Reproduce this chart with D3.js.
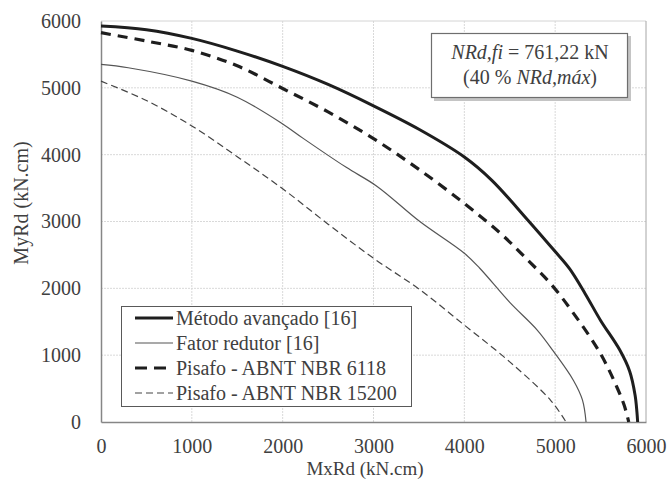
<!DOCTYPE html>
<html>
<head>
<meta charset="utf-8">
<script src="https://cdn.jsdelivr.net/npm/d3@7"></script>
<style>
  body { margin: 0; background: #fff; }
</style>
</head>
<body>
<script>
  // interaction curves (MxRd, MyRd in kN.cm)
  var metodoAvancado = [[0,5925],[500,5870],[1000,5740],[1500,5550],[2000,5320],[2500,5050],[3000,4730],[3500,4380],[4000,3965],[4300,3620],[4700,3020],[5000,2550],[5160,2290],[5330,1920],[5500,1520],[5710,1080],[5820,760],[5880,400],[5900,150],[5908,0]];
  var fatorRedutor = [[0,5350],[300,5300],[1000,5100],[1500,4860],[2000,4460],[2230,4240],[2700,3810],[3040,3525],[3510,3000],[4000,2525],[4170,2300],[4500,1790],[4800,1380],[4980,1060],[5200,625],[5300,330],[5340,0]];
  var pisafo6118 = [[0,5825],[500,5700],[1000,5560],[1500,5330],[2000,4990],[2500,4640],[3000,4240],[3500,3780],[4000,3270],[4400,2820],[4700,2420],[4950,2070],[5200,1630],[5500,1020],[5680,520],[5760,250],[5810,0]];
  var pisafo15200 = [[0,5100],[500,4810],[1000,4430],[1500,3970],[2000,3490],[2500,2960],[3000,2450],[3500,1990],[4000,1450],[4500,900],[4950,325],[5120,0]];

  var seriesNames = ["Método avançado [16]", "Fator redutor [16]", "Pisafo - ABNT NBR 6118", "Pisafo - ABNT NBR 15200"];
  var xTicks = [0, 1000, 2000, 3000, 4000, 5000, 6000];
  var yTicks = [0, 1000, 2000, 3000, 4000, 5000, 6000];

  var width = 668, height = 485;
  var margin = {left: 101, right: 22, top: 21, bottom: 63};
  var font = "'Liberation Serif', 'Times New Roman', serif";
  var ink = "#404040";

  var svg = d3.select("body").append("svg")
    .attr("width", width)
    .attr("height", height)
    .style("font-family", font);

  var x = d3.scaleLinear().domain([0, 6000]).range([margin.left, width - margin.right]);
  var y = d3.scaleLinear().domain([0, 6000]).range([height - margin.bottom, margin.top]);

  // gridlines
  svg.append("g").selectAll("line")
    .data(xTicks.slice(1, -1))
    .enter().append("line")
    .attr("x1", function(d) { return x(d); }).attr("x2", function(d) { return x(d); })
    .attr("y1", y(0)).attr("y2", y(6000))
    .attr("stroke", "#d9d9d9").attr("stroke-dasharray", "2,1");
  svg.append("g").selectAll("line")
    .data(yTicks.slice(1, -1))
    .enter().append("line")
    .attr("y1", function(d) { return y(d); }).attr("y2", function(d) { return y(d); })
    .attr("x1", x(0)).attr("x2", x(6000))
    .attr("stroke", "#d9d9d9").attr("stroke-dasharray", "2,1");

  // frame
  svg.append("line").attr("x1", x(0)).attr("x2", x(6000)).attr("y1", y(6000)).attr("y2", y(6000))
    .attr("stroke", "#d4d4d4");
  svg.append("line").attr("x1", x(6000)).attr("x2", x(6000)).attr("y1", y(0)).attr("y2", y(6000))
    .attr("stroke", "#a6a6a6");

  // axes
  var xAxis = svg.append("g")
    .attr("transform", "translate(0," + y(0) + ")")
    .call(d3.axisBottom(x).tickValues(xTicks).tickSize(0).tickPadding(17).tickFormat(d3.format("d")));
  var yAxis = svg.append("g")
    .attr("transform", "translate(" + x(0) + ",0)")
    .call(d3.axisLeft(y).tickValues(yTicks).tickSize(0).tickPadding(20).tickFormat(d3.format("d")));
  [xAxis, yAxis].forEach(function(a) {
    a.attr("font-family", null).attr("font-size", null);
    a.select(".domain").attr("stroke", "#868686").attr("stroke-width", 1.5);
    a.selectAll("text")
      .style("font-family", font)
      .style("font-size", "20px")
      .attr("fill", ink);
  });

  // curves
  var line = d3.line()
    .x(function(d) { return x(d[0]); })
    .y(function(d) { return y(d[1]); })
    .curve(d3.curveCatmullRom.alpha(0.5));

  var styles = [
    {color: "#1e1e1e", w: 3, dash: null},
    {color: "#555555", w: 1.2, dash: null},
    {color: "#1e1e1e", w: 3.2, dash: "10,7"},
    {color: "#444444", w: 1.2, dash: "7,4"}
  ];
  var allSeries = [metodoAvancado, fatorRedutor, pisafo6118, pisafo15200];

  svg.selectAll("path.curve")
    .data(allSeries)
    .enter().append("path")
    .attr("class", "curve")
    .attr("d", line)
    .attr("fill", "none")
    .attr("stroke", function(d, i) { return styles[i].color; })
    .attr("stroke-width", function(d, i) { return styles[i].w; })
    .attr("stroke-dasharray", function(d, i) { return styles[i].dash; });

  // axis titles
  svg.append("text")
    .attr("x", 365).attr("y", 475)
    .attr("text-anchor", "middle")
    .style("font-family", font).style("font-size", "19px")
    .attr("fill", ink)
    .text("MxRd (kN.cm)");
  svg.append("text")
    .attr("transform", "translate(28,203) rotate(-90)")
    .attr("text-anchor", "middle")
    .style("font-family", font).style("font-size", "20px")
    .attr("fill", ink)
    .text("MyRd (kN.cm)");

  // legend
  var legend = svg.append("g");
  legend.append("rect")
    .attr("x", 121.5).attr("y", 306.5).attr("width", 290).attr("height", 100)
    .attr("fill", "#fff").attr("stroke", "#595959").attr("stroke-width", 1);
  var rows = legend.selectAll("g")
    .data(seriesNames)
    .enter().append("g")
    .attr("transform", function(d, i) { return "translate(135," + (318 + i * 25) + ")"; });
  rows.append("line")
    .attr("x1", 0).attr("x2", 38).attr("y1", 0).attr("y2", 0)
    .attr("stroke", function(d, i) { return styles[i].color; })
    .attr("stroke-width", function(d, i) { return styles[i].w; })
    .attr("stroke-dasharray", function(d, i) { return i == 2 ? "12,7" : styles[i].dash; });
  rows.append("text")
    .attr("x", 41).attr("y", 6.5)
    .style("font-family", font).style("font-size", "20px")
    .attr("fill", ink)
    .text(function(d) { return d; });

  // annotation box with shadow
  var note = svg.append("g");
  note.append("rect")
    .attr("x", 434).attr("y", 36).attr("width", 197).attr("height", 65)
    .attr("fill", "#c4c4c4");
  note.append("rect")
    .attr("x", 431.5).attr("y", 33.5).attr("width", 196).attr("height", 64)
    .attr("fill", "#fff").attr("stroke", "#6e6e6e").attr("stroke-width", 1.2);
  var t1 = note.append("text").attr("x", 530).attr("y", 59).attr("text-anchor", "middle")
    .style("font-family", font).style("font-size", "20px").attr("fill", ink);
  t1.append("tspan").style("font-style", "italic").text("NRd,fi");
  t1.append("tspan").text(" = 761,22 kN");
  var t2 = note.append("text").attr("x", 530).attr("y", 84).attr("text-anchor", "middle")
    .style("font-family", font).style("font-size", "20px").attr("fill", ink);
  t2.append("tspan").text("(40 % ");
  t2.append("tspan").style("font-style", "italic").text("NRd,máx");
  t2.append("tspan").text(")");
</script>
</body>
</html>
